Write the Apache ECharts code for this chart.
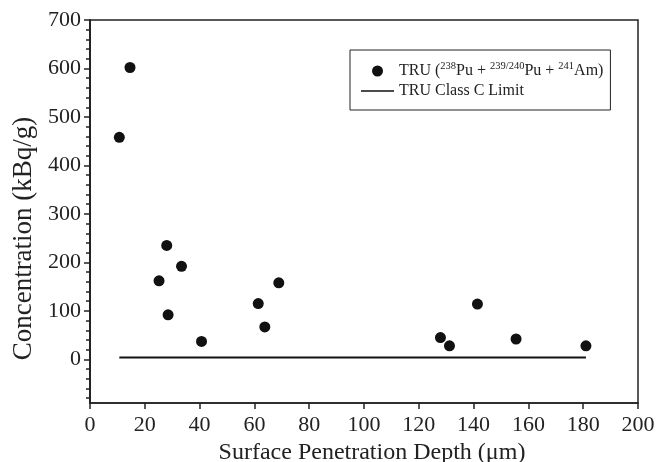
<!DOCTYPE html>
<html>
<head>
<meta charset="utf-8">
<script src="https://cdn.jsdelivr.net/npm/echarts@6/dist/echarts.min.js"></script>
<style>
html, body { margin: 0; padding: 0; background: #fff; }
#chart { width: 665px; height: 462px; }
</style>
</head>
<body>
<div id="chart"></div>
<script>
// measured points (depth um, kBq/g)
var depth = [10.7, 14.6, 25.2, 28.0, 28.5, 33.4, 40.7, 61.4, 63.8, 68.9, 127.9, 131.2, 141.4, 155.5, 181.0];
var conc  = [458, 602, 162, 235, 92, 192, 37, 115, 67, 158, 45, 28, 114, 42, 28];

// class C limit (100 nCi/g)
var limitX = [10.7, 181.0];
var limitY = [3.7, 3.7];

var yMajor = [0, 100, 200, 300, 400, 500, 600, 700];
var yMinor = [-80, -60, -40, -20, 0, 20, 40, 60, 80, 100, 120, 140, 160, 180, 200, 220, 240, 260, 280, 300,
              320, 340, 360, 380, 400, 420, 440, 460, 480, 500, 520, 540, 560, 580, 600, 620, 640, 660, 680, 700];

var FONT = '"Liberation Serif", "DejaVu Serif", serif';
var INK = '#222';

var pts = depth.map(function (d, i) { return [d, conc[i]]; });
var lim = limitX.map(function (d, i) { return [d, limitY[i]]; });

var chart = echarts.init(document.getElementById('chart'));
chart.setOption({
    animation: false,
    textStyle: { fontFamily: FONT, color: INK },
    grid: {
        left: 90, right: 27, top: 20, bottom: 59,
        outerBoundsMode: 'none',
        show: true, borderColor: INK, borderWidth: 1.5
    },
    legend: {
        orient: 'vertical',
        left: 350, top: 50,
        padding: [11, 7, 9, 11],
        itemGap: 0,
        itemWidth: 33, itemHeight: 11,
        borderColor: INK, borderWidth: 1,
        textStyle: {
            fontFamily: FONT, fontSize: 16, color: INK, lineHeight: 20,
            rich: {
                s: { fontFamily: FONT, fontSize: 10.5, color: INK, lineHeight: 12, verticalAlign: 'top' }
            }
        },
        formatter: function (name) {
            if (name === 'TRU') return 'TRU ({s|238}Pu + {s|239/240}Pu + {s|241}Am)';
            return name;
        },
        data: ['TRU', { name: 'TRU Class C Limit', icon: 'path://M0,0L100,0L100,5L0,5Z' }]
    },
    xAxis: {
        type: 'value', min: 0, max: 200, interval: 20,
        name: 'Surface Penetration Depth (\u03bcm)',
        nameLocation: 'middle', nameGap: 30,
        nameTextStyle: { fontFamily: FONT, fontSize: 24, color: INK, padding: [0, 0, 0, 16] },
        axisLine: { onZero: false, lineStyle: { color: INK, width: 1.5 } },
        axisTick: { length: 6, lineStyle: { color: INK, width: 1.5 } },
        axisLabel: { fontFamily: FONT, fontSize: 22, color: INK, margin: 11 },
        splitLine: { show: false }
    },
    yAxis: [{
        type: 'value', min: -90, max: 700,
        name: 'Concentration (kBq/g)',
        nameLocation: 'middle', nameGap: 49,
        nameTextStyle: { fontFamily: FONT, fontSize: 27, color: INK, padding: [0, 54, 0, 0] },
        axisLine: { show: true, onZero: false, lineStyle: { color: INK, width: 1.5 } },
        axisTick: { show: true, length: 6, customValues: yMajor, lineStyle: { color: INK, width: 1.5 } },
        axisLabel: { fontFamily: FONT, fontSize: 22, color: INK, margin: 9, customValues: yMajor },
        splitLine: { show: false }
    }, {
        type: 'value', min: -90, max: 700, position: 'left',
        axisLine: { show: true, onZero: false, lineStyle: { color: INK, width: 1.5 } },
        axisTick: { show: true, length: 4, customValues: yMinor, lineStyle: { color: INK, width: 1.5 } },
        axisLabel: { show: false },
        splitLine: { show: false }
    }],
    series: [{
        name: 'TRU Class C Limit',
        type: 'line',
        data: lim,
        symbol: 'none',
        lineStyle: { color: '#111', width: 2 },
        itemStyle: { color: '#111' },
        z: 1
    }, {
        name: 'TRU',
        type: 'scatter',
        data: pts,
        symbol: 'circle',
        symbolSize: 11,
        itemStyle: { color: '#111', opacity: 1 },
        z: 2
    }]
});
</script>
</body>
</html>
